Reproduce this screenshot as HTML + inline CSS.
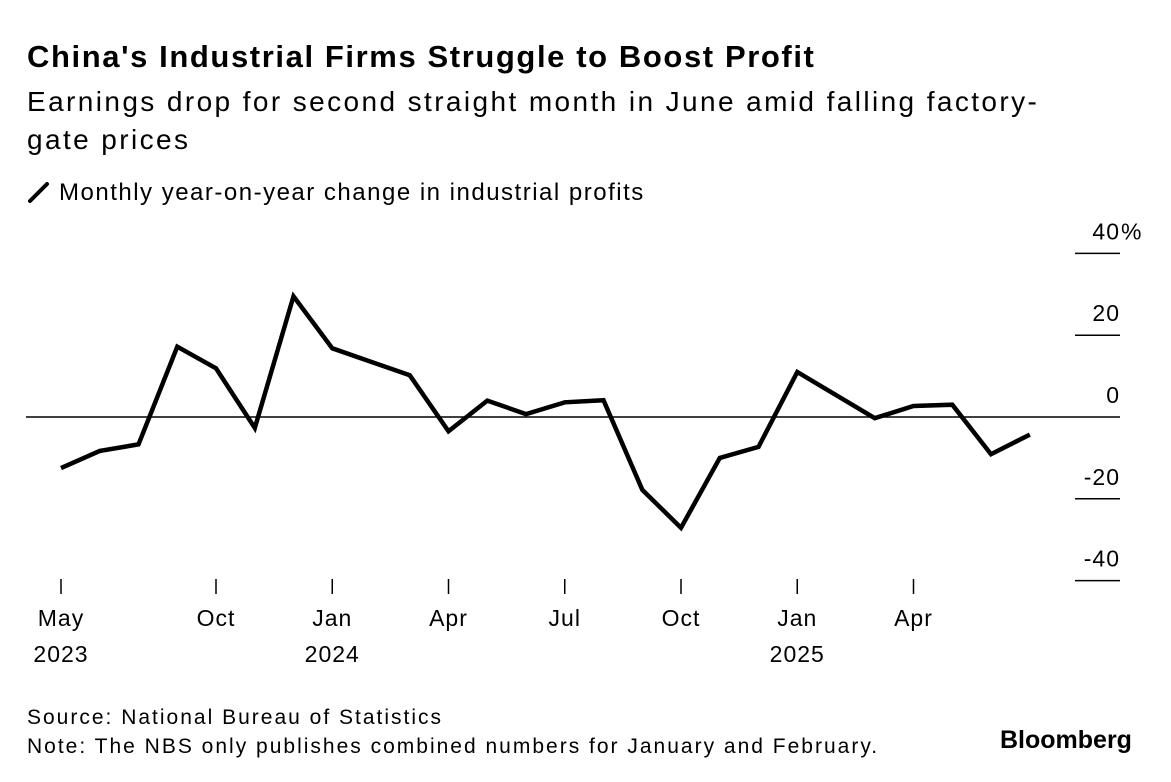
<!DOCTYPE html>
<html><head><meta charset="utf-8">
<style>
body{margin:0;background:#fff;width:1171px;height:782px;overflow:hidden;font-family:"Liberation Sans",Arial,sans-serif;color:#000}
.t{position:absolute;white-space:nowrap}
</style></head>
<body>
<div class="t" style="left:27px;top:39px;font-size:31px;font-weight:bold;letter-spacing:1.6px">China's Industrial Firms Struggle to Boost Profit</div>
<div class="t" style="left:27px;top:83px;font-size:28px;line-height:38px;letter-spacing:2.4px">Earnings drop for second straight month in June amid falling factory-<br>gate prices</div>
<div class="t" style="left:27px;top:179px;font-size:24px;letter-spacing:1.5px">
<svg width="24" height="24" style="vertical-align:-4px;margin-right:8px"><line x1="3" y1="21" x2="20" y2="4" stroke="#000" stroke-width="4" stroke-linecap="round"/></svg>Monthly year-on-year change in industrial profits</div>
<svg id="chart" width="1171" height="782" style="position:absolute;left:0;top:0"></svg>
<div class="t" style="left:27px;top:703px;font-size:21px;line-height:29px;letter-spacing:2px">Source: National Bureau of Statistics<br>Note: The NBS only publishes combined numbers for January and February.</div>
<div class="t" style="left:1000px;top:726px;font-size:25px;font-weight:bold;letter-spacing:0px">Bloomberg</div>
<script>
const monthIndex=[0,1,2,3,4,5,6,7,9,10,11,12,13,14,15,16,17,18,19,21,22,23,24,25];
const values=[-12.5,-8.3,-6.7,17.2,11.9,-2.7,29.5,16.8,10.2,-3.5,4.0,0.7,3.6,4.1,-17.8,-27.1,-10.0,-7.3,11.0,-0.3,2.7,3.0,-9.1,-4.3];
const yTicks=[40,20,0,-20,-40];
const xTickIndex=[0,4,7,10,13,16,19,22];
const xTickMonth=["May","Oct","Jan","Apr","Jul","Oct","Jan","Apr"];
const xTickYear=["2023","","2024","","","","2025",""];
const NS="http://www.w3.org/2000/svg";
const svg=document.getElementById('chart');
const x=i=>61+38.75*i;
const y=v=>417-v*4.09;
function mk(t,a){const e=document.createElementNS(NS,t);for(const k in a)e.setAttribute(k,a[k]);svg.appendChild(e);return e;}
const F={'font-size':23,'font-family':'Liberation Sans, sans-serif','letter-spacing':1};
yTicks.forEach(v=>{
  const l=mk('line',{x1:1075,x2:1120,y1:y(v),y2:y(v),stroke:'#000','stroke-width':1.5});
  
  
  const t=mk('text',Object.assign({x:1120,y:y(v)-14,'text-anchor':'end'},F));
  t.textContent=v;
  
  
  if(v===40){const p=mk('text',Object.assign({x:1121,y:y(v)-14},F));p.textContent='%';
  
  }
});
const z=mk('line',{x1:26,x2:1075,y1:y(0),y2:y(0),stroke:'#000','stroke-width':1.5});


xTickIndex.forEach((idx,k)=>{
  const l=mk('line',{x1:x(idx),x2:x(idx),y1:579,y2:594,stroke:'#000','stroke-width':1.5});
  
  
  const t=mk('text',Object.assign({x:x(idx),y:626,'text-anchor':'middle'},F));
  t.textContent=xTickMonth[k];
  
  
  if(xTickYear[k]){const u=mk('text',Object.assign({x:x(idx),y:662,'text-anchor':'middle'},F));u.textContent=xTickYear[k];
  
  }
});
const d=values.map((v,i)=>(i?'L':'M')+x(monthIndex[i]).toFixed(1)+','+y(v).toFixed(1)).join(' ');
const p=mk('path',{d:d,fill:'none',stroke:'#000','stroke-width':4.5,'stroke-linejoin':'miter','stroke-linecap':'butt'});


</script>
</body></html>
